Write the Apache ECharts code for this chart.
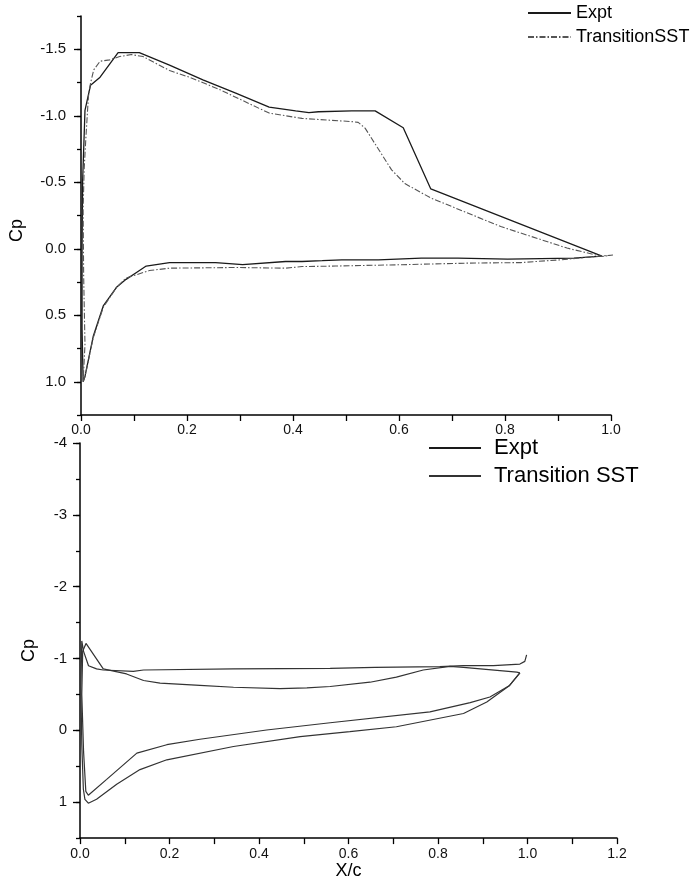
<!DOCTYPE html>
<html>
<head>
<meta charset="utf-8">
<script src="https://cdn.jsdelivr.net/npm/echarts@6/dist/echarts.min.js"></script>
<style>html,body{margin:0;padding:0;background:#fff;}#c{width:700px;height:881px;}</style>
</head>
<body>
<div id="c"></div>
<script>
// ---- Top chart data (X/c, Cp) ----
var topExptX  = [0.983, 0.93, 0.805, 0.711, 0.642, 0.561, 0.492, 0.455, 0.417, 0.386, 0.305, 0.254, 0.167, 0.123, 0.104, 0.085, 0.067, 0.042, 0.023, 0.0075, 0.004, 0.002, 0.002, 0.003, 0.0075, 0.018, 0.036, 0.07, 0.11, 0.167, 0.23, 0.292, 0.355, 0.405, 0.43, 0.448, 0.511, 0.555, 0.608, 0.66, 0.983];
var topExptCp = [0.055, 0.07, 0.078, 0.07, 0.07, 0.083, 0.083, 0.09, 0.096, 0.096, 0.12, 0.104, 0.104, 0.13, 0.18, 0.23, 0.29, 0.43, 0.66, 0.96, 1.0, 0.6, 0.0, -0.5, -1.04, -1.23, -1.29, -1.475, -1.475, -1.38, -1.27, -1.17, -1.065, -1.037, -1.024, -1.03, -1.037, -1.037, -0.91, -0.45, 0.055];

var topTsstX  = [1.005, 0.905, 0.83, 0.73, 0.605, 0.48, 0.417, 0.386, 0.292, 0.167, 0.129, 0.104, 0.085, 0.067, 0.042, 0.023, 0.0075, 0.004, 0.0075, 0.005, 0.004, 0.006, 0.009, 0.014, 0.018, 0.024, 0.036, 0.054, 0.073, 0.095, 0.117, 0.148, 0.167, 0.204, 0.26, 0.323, 0.355, 0.417, 0.511, 0.523, 0.536, 0.586, 0.611, 0.661, 0.792, 0.917, 0.983, 1.005];
var topTsstCp = [0.046, 0.083, 0.104, 0.108, 0.12, 0.13, 0.134, 0.146, 0.141, 0.146, 0.164, 0.196, 0.22, 0.29, 0.44, 0.67, 0.96, 1.0, 0.72, 0.2, -0.3, -0.6, -0.82, -1.145, -1.245, -1.345, -1.41, -1.42, -1.445, -1.46, -1.445, -1.38, -1.34, -1.29, -1.2, -1.08, -1.02, -0.98, -0.956, -0.95, -0.907, -0.593, -0.49, -0.38, -0.167, -0.005, 0.058, 0.046];

// ---- Bottom chart data (X/c, Cp) ----
var botExptX  = [0.983, 0.96, 0.916, 0.872, 0.782, 0.559, 0.417, 0.268, 0.194, 0.127, 0.0596, 0.0186, 0.013, 0.008, 0.004, 0.006, 0.0134, 0.052, 0.104, 0.142, 0.179, 0.268, 0.343, 0.447, 0.507, 0.559, 0.648, 0.707, 0.767, 0.827, 0.857, 0.976, 0.983];
var botExptCp = [-0.8, -0.625, -0.464, -0.386, -0.257, -0.106, -0.005, 0.124, 0.2, 0.317, 0.683, 0.904, 0.85, 0.3, -0.5, -1.1, -1.21, -0.855, -0.785, -0.694, -0.657, -0.625, -0.6, -0.58, -0.59, -0.61, -0.67, -0.74, -0.84, -0.89, -0.877, -0.81, -0.8];

var botTsstX  = [0.983, 0.96, 0.909, 0.857, 0.707, 0.603, 0.492, 0.343, 0.194, 0.134, 0.082, 0.037, 0.0186, 0.011, 0.0075, 0.004, 0.002, 0.004, 0.008, 0.019, 0.037, 0.052, 0.119, 0.142, 0.343, 0.559, 0.659, 0.804, 0.857, 0.924, 0.983, 0.994, 0.998];
var botTsstCp = [-0.8, -0.625, -0.395, -0.235, -0.05, 0.018, 0.087, 0.225, 0.41, 0.546, 0.75, 0.96, 1.014, 0.96, 0.82, 0.2, -0.6, -1.245, -1.1, -0.9, -0.855, -0.84, -0.82, -0.84, -0.855, -0.864, -0.877, -0.887, -0.9, -0.9, -0.923, -0.96, -1.05];

// ---- Tick labels ----
var topYTicks = [-1.5, -1.0, -0.5, 0.0, 0.5, 1.0];
var botYTicks = [-4, -3, -2, -1, 0, 1];

function pairs(xs, ys) { return xs.map(function (x, i) { return [x, ys[i]]; }); }

var FONT = "'Liberation Sans', Arial, Helvetica, sans-serif";
var axisLine = { show: true, onZero: false, lineStyle: { color: '#000', width: 1.5 } };
var hideSym = { color: 'rgba(0,0,0,0)', borderWidth: 0, borderColor: 'rgba(0,0,0,0)' };

var chart = echarts.init(document.getElementById('c'), null, { renderer: 'canvas' });
chart.setOption({
  animation: false,
  backgroundColor: '#fff',
  textStyle: { fontFamily: FONT, color: '#000' },
  grid: [
    { left: 78, top: 16, width: 533, height: 399 },
    { left: 80, top: 443, width: 537, height: 399 }
  ],
  legend: [
    {
      data: ['Expt', 'TransitionSST'], orient: 'vertical', left: 527, top: 4, padding: 0,
      itemWidth: 43, itemHeight: 14, itemGap: 6,
      itemStyle: hideSym,
      textStyle: { fontSize: 18, color: '#000', fontFamily: FONT },
      selectedMode: false
    },
    {
      data: ['Expt', 'Transition SST'], orient: 'vertical', left: 428, top: 437, padding: 0,
      itemWidth: 52, itemHeight: 18, itemGap: 6,
      itemStyle: hideSym,
      textStyle: { fontSize: 22, color: '#000', fontFamily: FONT, padding: [0, 0, 0, 8] },
      selectedMode: false
    }
  ],
  xAxis: [
    {
      type: 'value', gridIndex: 0, min: 0, max: 1, interval: 0.2,
      axisLine: axisLine,
      axisTick: { show: true, inside: false, length: 6, lineStyle: { color: '#000', width: 1.3 } },
      minorTick: { show: true, splitNumber: 2, length: 6, lineStyle: { color: '#000', width: 1.3 } },
      splitLine: { show: false }, minorSplitLine: { show: false },
      axisLabel: { fontSize: 14, color: '#111', margin: 8, formatter: function (v) { return v.toFixed(1); } }
    },
    {
      type: 'value', gridIndex: 1, min: 0, max: 1.2, interval: 0.2,
      axisLine: axisLine,
      axisTick: { show: true, inside: false, length: 6, lineStyle: { color: '#000', width: 1.3 } },
      minorTick: { show: true, splitNumber: 2, length: 6, lineStyle: { color: '#000', width: 1.3 } },
      splitLine: { show: false }, minorSplitLine: { show: false },
      axisLabel: { fontSize: 14, color: '#111', margin: 9, formatter: function (v) { return v.toFixed(1); } },
      name: 'X/c', nameLocation: 'middle', nameGap: 22,
      nameTextStyle: { fontSize: 18, color: '#000' }
    }
  ],
  yAxis: [
    {
      type: 'value', gridIndex: 0, min: -1.75, max: 1.25, inverse: true, position: 'left',
      axisLine: axisLine,
      axisTick: { show: true, length: 7, customValues: topYTicks, lineStyle: { color: '#000', width: 1.3 } },
      splitLine: { show: false },
      axisLabel: { fontSize: 15, color: '#111', margin: 15, customValues: topYTicks, formatter: function (v) { return v.toFixed(1); } },
      name: 'Cp', nameLocation: 'middle', nameGap: 55,
      nameTextStyle: { fontSize: 18, color: '#000', padding: [0, 30, 0, 0] }
    },
    {
      type: 'value', gridIndex: 0, min: -1.75, max: 1.25, interval: 0.25, inverse: true, position: 'left', offset: 0,
      axisLine: { show: false, onZero: false },
      axisTick: { show: true, length: 4, lineStyle: { color: '#000', width: 1.3 } },
      splitLine: { show: false },
      axisLabel: { show: false }
    },
    {
      type: 'value', gridIndex: 1, min: -4, max: 1.5, inverse: true, position: 'left',
      axisLine: axisLine,
      axisTick: { show: true, length: 7, customValues: botYTicks, lineStyle: { color: '#000', width: 1.3 } },
      splitLine: { show: false },
      axisLabel: { fontSize: 15, color: '#111', margin: 13, customValues: botYTicks, formatter: function (v) { return String(v); } },
      name: 'Cp', nameLocation: 'middle', nameGap: 42,
      nameTextStyle: { fontSize: 18, color: '#000', padding: [0, 20, 0, 0] }
    },
    {
      type: 'value', gridIndex: 1, min: -4, max: 1.5, interval: 0.5, inverse: true, position: 'left', offset: 0,
      axisLine: { show: false, onZero: false },
      axisTick: { show: true, length: 4, lineStyle: { color: '#000', width: 1.3 } },
      splitLine: { show: false },
      axisLabel: { show: false }
    }
  ],
  series: [
    {
      name: 'Expt', type: 'line', xAxisIndex: 0, yAxisIndex: 0, symbol: 'none', smooth: false,
      data: pairs(topExptX, topExptCp),
      lineStyle: { color: '#1a1a1a', width: 1.3, type: 'solid' }, itemStyle: { color: '#1a1a1a' }
    },
    {
      name: 'TransitionSST', type: 'line', xAxisIndex: 0, yAxisIndex: 0, symbol: 'none', smooth: false,
      data: pairs(topTsstX, topTsstCp),
      lineStyle: { color: '#555', width: 1.1, type: [6, 2, 1.5, 2] }, itemStyle: { color: '#555' }
    },
    {
      name: 'Expt', type: 'line', xAxisIndex: 1, yAxisIndex: 2, symbol: 'none', smooth: false,
      data: pairs(botExptX, botExptCp),
      lineStyle: { color: '#333', width: 1.2 }, itemStyle: { color: '#333' }
    },
    {
      name: 'Transition SST', type: 'line', xAxisIndex: 1, yAxisIndex: 2, symbol: 'none', smooth: false,
      data: pairs(botTsstX, botTsstCp),
      lineStyle: { color: '#333', width: 1.2 }, itemStyle: { color: '#333' }
    }
  ]
});
</script>
</body>
</html>
